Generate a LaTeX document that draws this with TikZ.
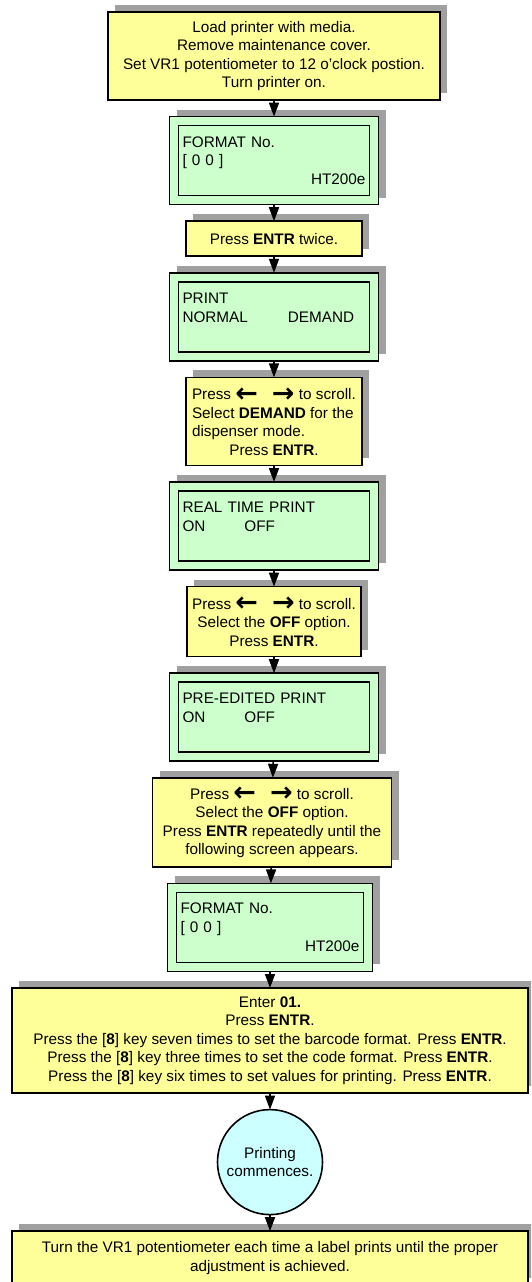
\documentclass[tikz,border=0pt]{standalone}
\usepackage{fontspec}
\setmainfont{Liberation Sans}
\newfontfamily\arrowfont{DejaVu Sans}
\usepackage{xcolor}
\usepackage{tikz}
\usetikzlibrary{arrows.meta,positioning,shadows}
\definecolor{noteYellow}{HTML}{FFFF99}
\definecolor{screenGreen}{HTML}{CCFFCC}
\definecolor{endCyan}{HTML}{CCFFFF}
\definecolor{shadowGray}{HTML}{A0A0A0}
\newcommand{\scrollkeys}{\raisebox{-2.5pt}{\arrowfont\bfseries\fontsize{27pt}{18.5pt}\selectfont ←\hspace{14pt}→}}
\tikzset{
    stepBox/.style={
        draw,
        line width=1.6pt,
        align=center,
        inner sep=3pt,
        outer sep=0pt,
        font=\fontsize{15.3pt}{18.5pt}\selectfont,
        fill=noteYellow,
        drop shadow={shadow xshift=7pt,shadow yshift=7pt,fill=shadowGray,opacity=1}
    },
    screenBox/.style={
        draw,
        line width=1.6pt,
        align=left,
        text width=183pt,
        inner xsep=13pt,
        inner ysep=3pt,
        outer sep=0pt,
        minimum height=88pt,
        font=\fontsize{15.3pt}{18.8pt}\selectfont,
        fill=screenGreen,
        drop shadow={shadow xshift=7pt,shadow yshift=7pt,fill=shadowGray,opacity=1},
        path picture={
            \draw[line width=1.6pt] ([shift={(9pt,-9pt)}]path picture bounding box.north west)
                rectangle ([shift={(-9pt,9pt)}]path picture bounding box.south east);
        }
    },
    endCircle/.style={
        draw,
        circle,
        line width=1.6pt,
        align=center,
        inner sep=0pt,
        outer sep=0pt,
        minimum size=105pt,
        font=\fontsize{15.3pt}{18.5pt}\selectfont,
        fill=endCyan
    },
    flowArrow/.style={
        -{Triangle[length=14pt,width=10pt]},
        line width=1.6pt
    }
}
\begin{document}
\begin{tikzpicture}[node distance=16.6pt]
        \useasboundingbox (0,0) rectangle (531pt,-1282pt);
        \clip (0,0) rectangle (531pt,-1282pt);

        \node[stepBox,minimum width=332pt,minimum height=88pt] (load) at (274pt,-56pt) {Load printer with media.\\Remove maintenance cover.\\Set VR1 potentiometer to 12 o’clock postion.\\Turn printer on.};
        \node[screenBox,below=of load] (formatA) {FORMAT No.\\{[ 0 0 ]}\\\hspace*{\fill}HT200e\hspace*{8pt}};
        \node[stepBox,minimum width=176pt,minimum height=35pt,below=of formatA] (twice) {Press \textbf{ENTR} twice.};
        \node[screenBox,below=of twice] (printMode) {PRINT\\NORMAL\hspace{40pt}DEMAND\\\mbox{}};
        \node[stepBox,align=left,minimum width=176pt,minimum height=88pt,below=of printMode] (demand) {Press \scrollkeys{} to scroll.\\Select \textbf{DEMAND} for the\\dispenser mode.\\\makebox[164pt]{Press \textbf{ENTR}.}};
        \node[screenBox,below=of demand] (realTime) {REAL TIME PRINT\\ON\hspace{39pt}OFF\\\mbox{}};
        \node[stepBox,minimum width=174pt,minimum height=70pt,below=of realTime] (offA) {Press \scrollkeys{} to scroll.\\Select the \textbf{OFF} option.\\Press \textbf{ENTR}.};
        \node[screenBox,below=of offA] (preEdit) {PRE-EDITED PRINT\\ON\hspace{39pt}OFF\\\mbox{}};
        \node[stepBox,minimum width=239pt,minimum height=89pt,below=of preEdit,xshift=-2pt] (offB) {Press \scrollkeys{} to scroll.\\Select the \textbf{OFF} option.\\Press \textbf{ENTR} repeatedly until the\\following screen appears.};
        \node[screenBox,text width=179pt,below=of offB,xshift=-2pt] (formatB) {FORMAT No.\\{[ 0 0 ]}\\\hspace*{\fill}HT200e\hspace*{8pt}};
        \node[stepBox,minimum width=516pt,minimum height=105pt,below=of formatB] (enter) {Enter \textbf{01.}\\Press \textbf{ENTR}.\\Press the [\textbf{8}] key seven times to set the barcode format. Press \textbf{ENTR}.\\Press the [\textbf{8}] key three times to set the code format. Press \textbf{ENTR}.\\Press the [\textbf{8}] key six times to set values for printing. Press \textbf{ENTR}.};
        \node[endCircle,below=of enter] (commence) {Printing\\commences.};
        \node[stepBox,minimum width=516pt,minimum height=54pt,below=of commence] (turn) {Turn the VR1 potentiometer each time a label prints until the proper\\adjustment is achieved.};

        \draw[flowArrow] (load) -- (formatA);
        \draw[flowArrow] (formatA) -- (twice);
        \draw[flowArrow] (twice) -- (printMode);
        \draw[flowArrow] (printMode) -- (demand);
        \draw[flowArrow] (demand) -- (realTime);
        \draw[flowArrow] (realTime) -- (offA);
        \draw[flowArrow] (offA) -- (preEdit);
        \draw[flowArrow] (preEdit) -- (offB);
        \draw[flowArrow] (offB) -- (formatB);
        \draw[flowArrow] (formatB) -- (enter);
        \draw[flowArrow] (enter) -- (commence);
        \draw[flowArrow] (commence) -- (turn);
    \end{tikzpicture}
\end{document}
